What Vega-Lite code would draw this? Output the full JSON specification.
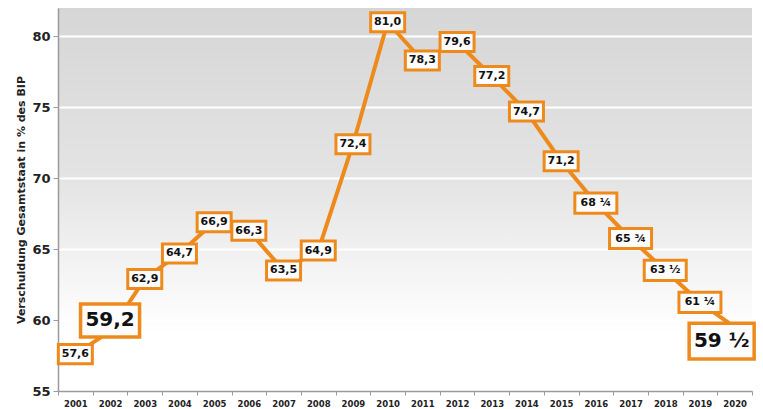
{
  "$schema": "https://vega.github.io/schema/vega-lite/v6.json",
  "autosize": {"type": "none"},
  "width": 694,
  "height": 383,
  "padding": {"left": 58, "top": 8, "right": 11, "bottom": 18},
  "background": "white",
  "config": {
    "view": {
      "stroke": null,
      "fill": {"gradient": "linear", "x1": 0, "y1": 0, "x2": 0, "y2": 1,
        "stops": [{"offset": 0, "color": "#d6d6d6"}, {"offset": 0.45, "color": "#e4e4e4"}, {"offset": 0.85, "color": "#ffffff"}, {"offset": 1, "color": "#ffffff"}]}
    },
    "font": "DejaVu Sans"
  },
  "data": {"values": [
    {"year": "2001", "value": 57.6, "label": "57,6", "kind": "d"},
    {"year": "2002", "value": 59.2, "label": "59,2", "kind": "big1"},
    {"year": "2003", "value": 62.9, "label": "62,9", "kind": "d"},
    {"year": "2004", "value": 64.7, "label": "64,7", "kind": "d"},
    {"year": "2005", "value": 66.9, "label": "66,9", "kind": "d"},
    {"year": "2006", "value": 66.3, "label": "66,3", "kind": "d"},
    {"year": "2007", "value": 63.5, "label": "63,5", "kind": "d"},
    {"year": "2008", "value": 64.9, "label": "64,9", "kind": "d"},
    {"year": "2009", "value": 72.4, "label": "72,4", "kind": "d"},
    {"year": "2010", "value": 81.0, "label": "81,0", "kind": "d"},
    {"year": "2011", "value": 78.3, "label": "78,3", "kind": "d"},
    {"year": "2012", "value": 79.6, "label": "79,6", "kind": "d"},
    {"year": "2013", "value": 77.2, "label": "77,2", "kind": "d"},
    {"year": "2014", "value": 74.7, "label": "74,7", "kind": "d"},
    {"year": "2015", "value": 71.2, "label": "71,2", "kind": "d"},
    {"year": "2016", "value": 68.25, "label": "68 ¼", "kind": "f"},
    {"year": "2017", "value": 65.75, "label": "65 ¾", "kind": "f"},
    {"year": "2018", "value": 63.5, "label": "63 ½", "kind": "f"},
    {"year": "2019", "value": 61.25, "label": "61 ¼", "kind": "f"},
    {"year": "2020", "value": 59.5, "label": "59 ½", "kind": "big2"}
  ]},
  "encoding": {
    "x": {"field": "year", "type": "ordinal", "title": null,
      "scale": {"paddingInner": 0, "paddingOuter": 0},
      "axis": {"labelAngle": 0, "labelFontSize": 8.5, "labelFontWeight": "bold", "labelColor": "#222", "domainColor": "#9a9a9a", "domainWidth": 1.5, "tickColor": "#9a9a9a", "tickBand": "extent", "tickSize": 4, "labelPadding": 4, "grid": false}},
    "y": {"field": "value", "type": "quantitative",
      "title": "Verschuldung Gesamtstaat in % des BIP",
      "scale": {"domain": [55, 82], "nice": false, "zero": false},
      "axis": {"values": [55, 60, 65, 70, 75, 80], "labelFontSize": 13, "labelFontWeight": "bold", "labelColor": "#222", "titleFontSize": 11, "titleFontWeight": "bold", "titleColor": "#222", "titlePadding": 5, "domainColor": "#9a9a9a", "domainWidth": 1.5, "tickColor": "#9a9a9a", "tickSize": 5, "labelPadding": 3, "gridColor": "#ffffff", "gridWidth": 2, "gridOpacity": 1}}
  },
  "layer": [
    {"mark": {"type": "line", "color": "#EE8A1C", "strokeWidth": 4}},
    {"transform": [{"filter": "datum.kind == 'd'"}],
     "mark": {"type": "point", "shape": "M-1,-0.56H1V0.56H-1Z", "size": 1156, "filled": false, "fill": "#fcfcfc", "fillOpacity": 1, "stroke": "#EE8A1C", "strokeWidth": 3, "opacity": 1}},
    {"transform": [{"filter": "datum.kind == 'f'"}],
     "mark": {"type": "point", "shape": "M-1,-0.48H1V0.48H-1Z", "size": 1764, "filled": false, "fill": "#fcfcfc", "fillOpacity": 1, "stroke": "#EE8A1C", "strokeWidth": 3, "opacity": 1}},
    {"transform": [{"filter": "datum.kind == 'big1'"}],
     "mark": {"type": "point", "shape": "M-1,-0.56H1V0.56H-1Z", "size": 3481, "yOffset": -11, "filled": false, "fill": "#fcfcfc", "fillOpacity": 1, "stroke": "#EE8A1C", "strokeWidth": 3.5, "opacity": 1}},
    {"transform": [{"filter": "datum.kind == 'big2'"}],
     "mark": {"type": "point", "shape": "M-1,-0.55H1V0.55H-1Z", "size": 4225, "xOffset": -13, "yOffset": 14, "filled": false, "fill": "#fcfcfc", "fillOpacity": 1, "stroke": "#EE8A1C", "strokeWidth": 3.5, "opacity": 1}},
    {"transform": [{"filter": "datum.kind == 'd' || datum.kind == 'f'"}],
     "mark": {"type": "text", "fontSize": 11, "fontWeight": "bold", "color": "#111", "baseline": "middle", "align": "center"},
     "encoding": {"text": {"field": "label"}}},
    {"transform": [{"filter": "datum.kind == 'big1'"}],
     "mark": {"type": "text", "fontSize": 20, "fontWeight": "bold", "color": "#111", "baseline": "middle", "align": "center", "yOffset": -11},
     "encoding": {"text": {"field": "label"}}},
    {"transform": [{"filter": "datum.kind == 'big2'"}],
     "mark": {"type": "text", "fontSize": 20, "fontWeight": "bold", "color": "#111", "baseline": "middle", "align": "center", "xOffset": -13, "yOffset": 14},
     "encoding": {"text": {"field": "label"}}}
  ]
}
